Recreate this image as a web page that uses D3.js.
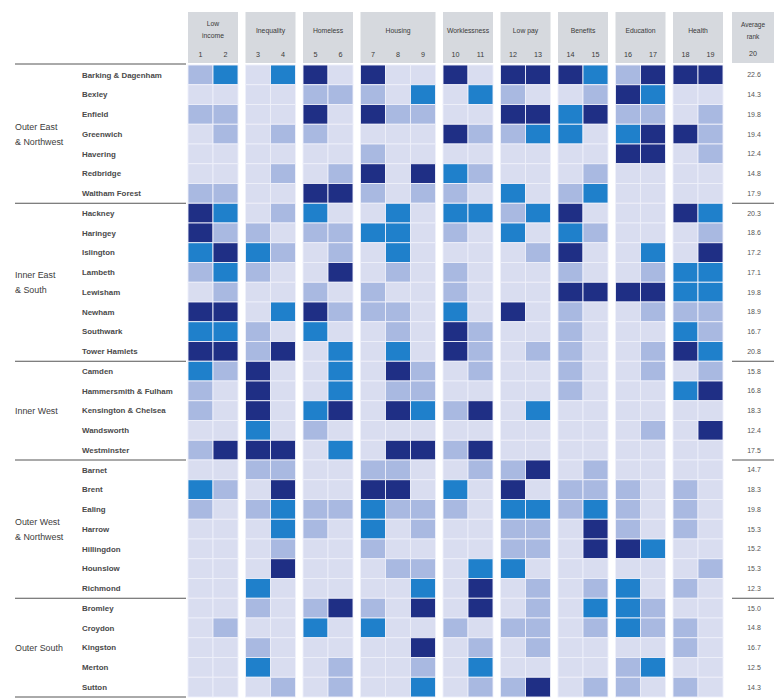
<!DOCTYPE html>
<html>
<head>
<meta charset="utf-8">
<script src="https://cdn.jsdelivr.net/npm/d3@7"></script>
<style>
  html, body { margin: 0; padding: 0; background: #fff; }
  svg { display: block; }
  text { font-family: "Liberation Sans", Arial, sans-serif; }
</style>
</head>
<body>
<svg id="chart" width="774" height="698"></svg>
<script>
// ---------- DATA ----------
const regions = [
  { name: ["Outer East", "& Northwest"], count: 7 },
  { name: ["Inner East", "& South"], count: 8 },
  { name: ["Inner West"], count: 5 },
  { name: ["Outer West", "& Northwest"], count: 7 },
  { name: ["Outer South"], count: 5 }
];
const boroughs = [
  "Barking & Dagenham", "Bexley", "Enfield", "Greenwich", "Havering", "Redbridge", "Waltham Forest",
  "Hackney", "Haringey", "Islington", "Lambeth", "Lewisham", "Newham", "Southwark", "Tower Hamlets",
  "Camden", "Hammersmith & Fulham", "Kensington & Chelsea", "Wandsworth", "Westminster",
  "Barnet", "Brent", "Ealing", "Harrow", "Hillingdon", "Hounslow", "Richmond",
  "Bromley", "Croydon", "Kingston", "Merton", "Sutton"
];
const indicatorGroups = [
  { name: ["Low", "income"], cols: [1, 2] },
  { name: ["Inequality"], cols: [3, 4] },
  { name: ["Homeless"], cols: [5, 6] },
  { name: ["Housing"], cols: [7, 8, 9] },
  { name: ["Worklessness"], cols: [10, 11] },
  { name: ["Low pay"], cols: [12, 13] },
  { name: ["Benefits"], cols: [14, 15] },
  { name: ["Education"], cols: [16, 17] },
  { name: ["Health"], cols: [18, 19] }
];
// Rank band per borough per indicator (0 = best ... 3 = worst)
const bands = [
  [1,2,0,2,3,0,3,0,0,3,0,3,3,3,2,1,3,3,3],
  [0,0,0,0,1,1,1,0,2,0,2,1,0,0,1,3,2,0,0],
  [1,1,0,0,3,0,3,1,1,0,0,3,3,2,3,1,1,0,1],
  [0,1,0,1,1,0,0,0,0,3,1,1,2,2,0,2,3,3,1],
  [0,0,0,0,0,0,1,0,0,0,0,0,0,0,0,3,3,0,1],
  [0,0,0,1,0,1,3,0,3,2,1,0,0,0,1,0,0,0,0],
  [1,1,0,0,3,3,1,0,1,1,0,2,0,1,2,0,0,0,0],
  [3,2,0,1,2,0,0,2,0,2,2,1,2,3,0,0,0,3,2],
  [3,1,1,0,1,1,2,2,0,1,0,2,0,2,1,0,0,0,1],
  [2,3,2,1,0,1,0,2,0,0,0,0,1,3,0,0,2,0,3],
  [1,2,1,0,0,3,0,1,0,1,0,0,0,1,0,0,1,2,2],
  [0,1,0,0,1,0,1,0,0,1,0,0,0,3,3,3,3,2,2],
  [3,3,0,2,3,1,1,1,0,2,0,3,0,1,0,0,1,1,1],
  [2,2,1,0,2,0,0,1,0,3,1,0,0,1,0,0,0,2,1],
  [3,3,1,3,0,2,0,2,0,3,1,0,1,1,0,0,1,3,2],
  [2,1,3,0,0,2,0,3,1,0,1,0,0,1,0,0,1,0,1],
  [1,0,3,0,0,2,0,1,1,0,0,0,0,1,0,0,0,2,3],
  [1,0,3,0,2,3,0,3,2,1,3,0,2,0,0,0,0,0,0],
  [0,0,2,0,1,0,0,0,0,0,0,0,0,0,0,0,1,0,3],
  [1,3,3,3,0,2,0,3,3,1,3,0,0,0,0,0,0,0,0],
  [0,0,1,1,0,0,1,1,0,0,1,1,3,0,1,0,0,0,0],
  [2,1,0,3,0,0,3,3,0,2,0,3,0,1,1,1,0,1,0],
  [1,0,1,2,1,1,2,1,1,1,0,2,2,1,2,1,0,1,0],
  [0,0,0,2,1,0,2,0,1,0,0,1,1,0,3,1,0,1,0],
  [0,0,0,1,0,0,1,0,0,0,0,1,1,0,3,3,2,0,0],
  [0,0,0,3,0,0,0,1,1,0,2,2,0,0,0,0,0,0,1],
  [0,0,2,0,0,0,0,0,2,0,3,0,1,0,1,2,0,1,0],
  [0,0,1,0,1,3,1,0,3,0,3,0,1,0,2,2,1,0,0],
  [0,1,0,0,2,0,2,0,0,1,0,1,1,0,1,2,1,1,0],
  [0,0,1,0,0,0,0,0,3,0,1,0,1,0,0,0,0,1,0],
  [0,0,2,0,0,1,0,0,1,0,2,0,0,0,0,1,2,0,0],
  [0,0,0,1,0,1,0,0,2,0,1,1,3,0,1,1,0,1,0]
];
const averageRank = [
  "22.6","14.3","19.8","19.4","12.4","14.8","17.9",
  "20.3","18.6","17.2","17.1","19.8","18.9","16.7","20.8",
  "15.8","16.8","18.3","12.4","17.5",
  "14.7","18.3","19.8","15.3","15.2","15.3","12.3",
  "15.0","14.8","16.7","12.5","14.3"
];
const bandColors = ["#d9ddf0", "#a9b9e1", "#1f80cb", "#1f2f85"];

// ---------- LAYOUT ----------
const svg = d3.select("#chart");
const cellW = 25, groupGap = 7.5, gridX0 = 188;
const rowTop = 65, rowBottom = 697;
const headTop = 12, headBottom = 63;

const colX = {};
let xCursor = gridX0;
indicatorGroups.forEach(g => {
  g.x0 = xCursor;
  g.cols.forEach(c => { colX[c] = xCursor; xCursor += cellW; });
  g.x1 = xCursor;
  xCursor += groupGap;
});
const avgX0 = 732, avgX1 = 774;

const y = d3.scaleBand().domain(d3.range(boroughs.length)).range([rowTop, rowBottom]).padding(0);
const color = d3.scaleOrdinal().domain([0,1,2,3]).range(bandColors);

// ---------- HEADER ----------
const head = svg.append("g");
indicatorGroups.forEach(g => {
  head.append("rect").attr("x", g.x0).attr("y", headTop)
    .attr("width", g.x1 - g.x0).attr("height", headBottom - headTop).attr("fill", "#d6d9de");
  const lines = g.name;
  const cx = (g.x0 + g.x1) / 2;
  lines.forEach((l, i) => {
    head.append("text").attr("x", cx)
      .attr("y", lines.length === 1 ? 32.5 : 25.5 + i * 12.5)
      .attr("text-anchor", "middle").attr("font-size", 6.8).attr("fill", "#3a3a3a").text(l);
  });
  g.cols.forEach(c => {
    head.append("text").attr("x", colX[c] + cellW / 2).attr("y", 56.5)
      .attr("text-anchor", "middle").attr("font-size", 7.2).attr("fill", "#3a3a3a").text(c);
  });
});
head.append("rect").attr("x", avgX0).attr("y", headTop)
  .attr("width", avgX1 - avgX0).attr("height", headBottom - headTop).attr("fill", "#d6d9de");
["Average", "rank"].forEach((l, i) => {
  head.append("text").attr("x", (avgX0 + avgX1) / 2).attr("y", 26.5 + i * 12)
    .attr("text-anchor", "middle").attr("font-size", 6.5).attr("fill", "#3a3a3a").text(l);
});
head.append("text").attr("x", (avgX0 + avgX1) / 2).attr("y", 56)
  .attr("text-anchor", "middle").attr("font-size", 7.2).attr("fill", "#3a3a3a").text("20");

// ---------- CELLS ----------
const cells = [];
bands.forEach((row, r) => row.forEach((v, ci) => cells.push({ r, c: ci + 1, v })));
svg.append("g").selectAll("rect").data(cells).join("rect")
  .attr("x", d => colX[d.c])
  .attr("y", d => y(d.r))
  .attr("width", cellW)
  .attr("height", y.bandwidth())
  .attr("fill", d => color(d.v))
  .attr("stroke", "#eef0fa")
  .attr("stroke-width", 0.9);

// ---------- ROW LABELS ----------
svg.append("g").selectAll("text").data(boroughs).join("text")
  .attr("x", 82)
  .attr("y", (d, i) => y(i) + y.bandwidth() / 2 + 2.7)
  .attr("font-size", 7.9).attr("font-weight", "bold").attr("fill", "#4a4a4a")
  .text(d => d);

svg.append("g").selectAll("text").data(averageRank).join("text")
  .attr("x", (avgX0 + avgX1) / 2 + 1)
  .attr("y", (d, i) => y(i) + y.bandwidth() / 2 + 2.6)
  .attr("text-anchor", "middle")
  .attr("font-size", 7).attr("fill", "#555").text(d => d);

// ---------- REGIONS & SEPARATORS ----------
let start = 0;
const lineG = svg.append("g");
lineG.append("line").attr("x1", 15).attr("x2", 186).attr("y1", headBottom + 1).attr("y2", headBottom + 1)
  .attr("stroke", "#555").attr("stroke-width", 1);
regions.forEach(reg => {
  const top = y(start), bottom = y(start + reg.count - 1) + y.bandwidth();
  const mid = (top + bottom) / 2;
  const n = reg.name.length;
  reg.name.forEach((l, i) => {
    svg.append("text").attr("x", 15)
      .attr("y", mid + 3.2 + (i - (n - 1) / 2) * 14.5)
      .attr("font-size", 8.9).attr("fill", "#3c3c3c").text(l);
  });
  lineG.append("line").attr("x1", 15).attr("x2", 186).attr("y1", bottom).attr("y2", bottom)
    .attr("stroke", "#555").attr("stroke-width", 1);
  if (start + reg.count < boroughs.length) {
    lineG.append("line").attr("x1", avgX0).attr("x2", avgX1).attr("y1", bottom).attr("y2", bottom)
      .attr("stroke", "#555").attr("stroke-width", 1);
  }
  start += reg.count;
});
</script>
</body>
</html>
